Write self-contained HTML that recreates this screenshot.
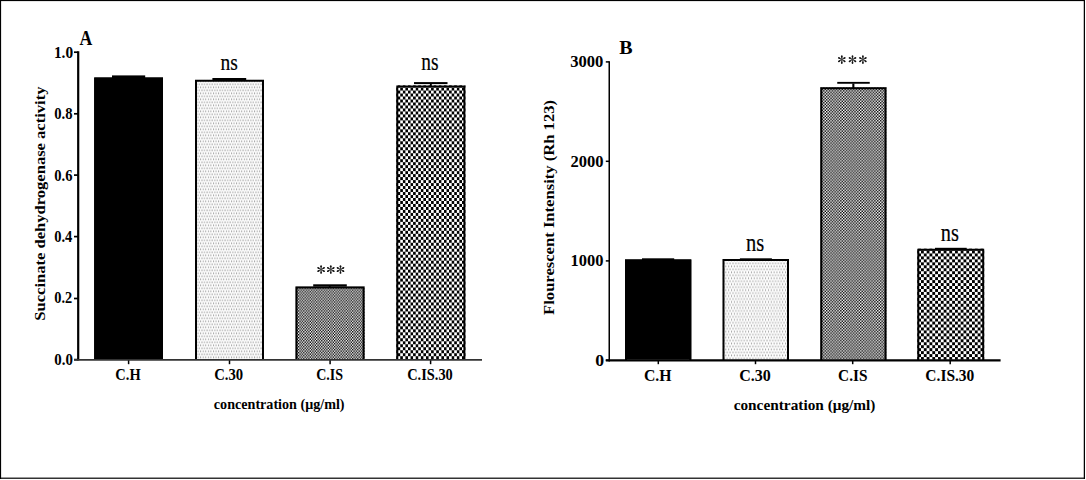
<!DOCTYPE html>
<html><head><meta charset="utf-8"><style>
html,body{margin:0;padding:0;background:#fff;width:1086px;height:480px;overflow:hidden}
svg{display:block;font-family:"Liberation Serif",serif}
</style></head><body>
<svg width="1086" height="480" viewBox="0 0 1086 480">
<defs><pattern id="checkA" patternUnits="userSpaceOnUse" x="423.4" y="198.0" width="5.14" height="5.97"><rect width="5.14" height="5.97" fill="#fff"/><rect x="0.000" y="0.000" width="2.570" height="2.985" fill="#000"/><rect x="2.570" y="2.985" width="2.570" height="2.985" fill="#000"/></pattern><pattern id="checkB" patternUnits="userSpaceOnUse" x="915.3" y="250.5" width="5.67" height="5.92"><rect width="5.67" height="5.92" fill="#fff"/><rect x="0.000" y="0.000" width="2.835" height="2.960" fill="#000"/><rect x="2.835" y="2.960" width="2.835" height="2.960" fill="#000"/></pattern><pattern id="fineA" patternUnits="userSpaceOnUse" x="295.5" y="286.5" width="2.57" height="2.97"><rect width="2.57" height="2.97" fill="#fff"/><rect x="0.000" y="0.000" width="1.285" height="1.485" fill="#000"/><rect x="1.285" y="1.485" width="1.285" height="1.485" fill="#000"/></pattern><pattern id="fineB" patternUnits="userSpaceOnUse" x="820.3" y="87.25" width="2.84" height="2.97"><rect width="2.84" height="2.97" fill="#fff"/><rect x="0.000" y="0.000" width="1.420" height="1.485" fill="#000"/><rect x="1.420" y="1.485" width="1.420" height="1.485" fill="#000"/></pattern><pattern id="dotsA" patternUnits="userSpaceOnUse" x="195" y="79.9" width="2.57" height="6.0"><rect width="2.57" height="6.0" fill="#fff"/><rect x="0" y="0.5" width="1" height="1.8" fill="#a0a0a0"/><rect x="1.285" y="3.5" width="1" height="1.8" fill="#a0a0a0"/></pattern><pattern id="dotsB" patternUnits="userSpaceOnUse" x="722.5" y="259" width="2.84" height="5.94"><rect width="2.84" height="5.94" fill="#fff"/><rect x="0" y="0.5" width="1" height="1.8" fill="#a0a0a0"/><rect x="1.42" y="3.47" width="1" height="1.8" fill="#a0a0a0"/></pattern></defs>
<rect x="0" y="0" width="1085.00" height="1.10" fill="#000"/><rect x="0" y="0" width="1.10" height="479.00" fill="#000"/><rect x="1083.75" y="0" width="1.25" height="479.00" fill="#000"/><rect x="0" y="477.6" width="1085.00" height="1.20" fill="#000"/><line x1="78.2" y1="51.2" x2="78.2" y2="360.6" stroke="#000" stroke-width="2.2"/><line x1="74" y1="52.2" x2="78.2" y2="52.2" stroke="#000" stroke-width="1.7"/><line x1="74" y1="113.8" x2="78.2" y2="113.8" stroke="#000" stroke-width="1.7"/><line x1="74" y1="175.1" x2="78.2" y2="175.1" stroke="#000" stroke-width="1.7"/><line x1="74" y1="236.6" x2="78.2" y2="236.6" stroke="#000" stroke-width="1.7"/><line x1="74" y1="298.5" x2="78.2" y2="298.5" stroke="#000" stroke-width="1.7"/><line x1="74" y1="359.6" x2="78.2" y2="359.6" stroke="#000" stroke-width="1.7"/><line x1="128.6" y1="360" x2="128.6" y2="364.2" stroke="#000" stroke-width="1.5"/><line x1="229.5" y1="360" x2="229.5" y2="364.2" stroke="#000" stroke-width="1.5"/><line x1="330.1" y1="360" x2="330.1" y2="364.2" stroke="#000" stroke-width="1.5"/><line x1="430.6" y1="360" x2="430.6" y2="364.2" stroke="#000" stroke-width="1.5"/><rect x="94.2" y="77.5" width="68.80" height="281.70" fill="#000"/><path d="M95.20,359.70V78.50H162.00V359.70" fill="none" stroke="#000" stroke-width="2.0"/><rect x="195" y="79.7" width="69.00" height="279.50" fill="url(#dotsA)"/><path d="M196.00,359.70V80.70H263.00V359.70" fill="none" stroke="#000" stroke-width="2.0"/><rect x="295.5" y="286.5" width="69.10" height="72.70" fill="url(#fineA)"/><path d="M296.50,359.70V287.50H363.60V359.70" fill="none" stroke="#000" stroke-width="2.0"/><rect x="396.3" y="85.4" width="69.10" height="273.80" fill="url(#checkA)"/><path d="M397.30,359.70V86.40H464.40V359.70" fill="none" stroke="#000" stroke-width="2.0"/><rect x="112" y="75.4" width="33.20" height="2.60" fill="#000"/><rect x="212.4" y="78.0" width="33.80" height="2.00" fill="#000"/><rect x="313.2" y="284.3" width="33.60" height="2.30" fill="#000"/><rect x="328.9" y="285.5" width="1.70" height="1.50" fill="#000"/><rect x="414" y="82.1" width="33.50" height="2.00" fill="#000"/><rect x="429.9" y="84" width="1.90" height="2.00" fill="#000"/><line x1="609.25" y1="61.2" x2="609.25" y2="361.5" stroke="#000" stroke-width="1.5"/><line x1="605.8" y1="61.9" x2="609.25" y2="61.9" stroke="#000" stroke-width="1.5"/><line x1="605.8" y1="161.3" x2="609.25" y2="161.3" stroke="#000" stroke-width="1.5"/><line x1="605.8" y1="260.9" x2="609.25" y2="260.9" stroke="#000" stroke-width="1.5"/><line x1="605.8" y1="360.3" x2="609.25" y2="360.3" stroke="#000" stroke-width="1.5"/><line x1="658.3" y1="361" x2="658.3" y2="364.2" stroke="#000" stroke-width="1.5"/><line x1="755.5" y1="361" x2="755.5" y2="364.2" stroke="#000" stroke-width="1.5"/><line x1="852.7" y1="361" x2="852.7" y2="364.2" stroke="#000" stroke-width="1.5"/><line x1="950.2" y1="361" x2="950.2" y2="364.2" stroke="#000" stroke-width="1.5"/><rect x="625" y="259.4" width="66.30" height="100.20" fill="#000"/><path d="M626.00,360.10V260.40H690.30V360.10" fill="none" stroke="#000" stroke-width="2.0"/><rect x="722.5" y="259.0" width="66.50" height="100.60" fill="url(#dotsB)"/><path d="M723.50,360.10V260.00H788.00V360.10" fill="none" stroke="#000" stroke-width="2.0"/><rect x="820.3" y="87.25" width="66.20" height="272.35" fill="url(#fineB)"/><path d="M821.30,360.10V88.25H885.50V360.10" fill="none" stroke="#000" stroke-width="2.0"/><rect x="917.3" y="248.7" width="66.90" height="110.90" fill="url(#checkB)"/><path d="M918.30,360.10V249.70H983.20V360.10" fill="none" stroke="#000" stroke-width="2.0"/><rect x="642" y="258.3" width="32.20" height="1.70" fill="#000"/><rect x="739.9" y="258.3" width="32.00" height="1.70" fill="#000"/><rect x="837.25" y="81.9" width="32.50" height="1.85" fill="#000"/><rect x="852.3" y="83.5" width="2.10" height="4.50" fill="#000"/><rect x="935" y="247.8" width="31.70" height="1.70" fill="#000"/><line x1="74" y1="359.8" x2="482" y2="359.8" stroke="#333" stroke-width="1.7"/><line x1="605.8" y1="360.4" x2="1000.6" y2="360.4" stroke="#000" stroke-width="2.2"/><line x1="321.10" y1="266.50" x2="321.10" y2="272.50" stroke="#444" stroke-width="1.15"/><line x1="318.50" y1="268.00" x2="323.70" y2="271.00" stroke="#444" stroke-width="1.15"/><line x1="323.70" y1="268.00" x2="318.50" y2="271.00" stroke="#444" stroke-width="1.15"/><ellipse cx="321.10" cy="266.35" rx="1.2" ry="0.85" transform="rotate(-90 321.10 266.35)" fill="#111"/><ellipse cx="323.83" cy="267.93" rx="1.2" ry="0.85" transform="rotate(-30 323.83 267.93)" fill="#111"/><ellipse cx="318.37" cy="267.93" rx="1.2" ry="0.85" transform="rotate(-150 318.37 267.93)" fill="#111"/><ellipse cx="321.10" cy="272.65" rx="1.2" ry="0.85" transform="rotate(-270 321.10 272.65)" fill="#111"/><ellipse cx="318.37" cy="271.07" rx="1.2" ry="0.85" transform="rotate(-210 318.37 271.07)" fill="#111"/><ellipse cx="323.83" cy="271.07" rx="1.2" ry="0.85" transform="rotate(-330 323.83 271.07)" fill="#111"/><line x1="330.80" y1="266.50" x2="330.80" y2="272.50" stroke="#444" stroke-width="1.15"/><line x1="328.20" y1="268.00" x2="333.40" y2="271.00" stroke="#444" stroke-width="1.15"/><line x1="333.40" y1="268.00" x2="328.20" y2="271.00" stroke="#444" stroke-width="1.15"/><ellipse cx="330.80" cy="266.35" rx="1.2" ry="0.85" transform="rotate(-90 330.80 266.35)" fill="#111"/><ellipse cx="333.53" cy="267.93" rx="1.2" ry="0.85" transform="rotate(-30 333.53 267.93)" fill="#111"/><ellipse cx="328.07" cy="267.93" rx="1.2" ry="0.85" transform="rotate(-150 328.07 267.93)" fill="#111"/><ellipse cx="330.80" cy="272.65" rx="1.2" ry="0.85" transform="rotate(-270 330.80 272.65)" fill="#111"/><ellipse cx="328.07" cy="271.07" rx="1.2" ry="0.85" transform="rotate(-210 328.07 271.07)" fill="#111"/><ellipse cx="333.53" cy="271.07" rx="1.2" ry="0.85" transform="rotate(-330 333.53 271.07)" fill="#111"/><line x1="340.50" y1="266.50" x2="340.50" y2="272.50" stroke="#444" stroke-width="1.15"/><line x1="337.90" y1="268.00" x2="343.10" y2="271.00" stroke="#444" stroke-width="1.15"/><line x1="343.10" y1="268.00" x2="337.90" y2="271.00" stroke="#444" stroke-width="1.15"/><ellipse cx="340.50" cy="266.35" rx="1.2" ry="0.85" transform="rotate(-90 340.50 266.35)" fill="#111"/><ellipse cx="343.23" cy="267.93" rx="1.2" ry="0.85" transform="rotate(-30 343.23 267.93)" fill="#111"/><ellipse cx="337.77" cy="267.93" rx="1.2" ry="0.85" transform="rotate(-150 337.77 267.93)" fill="#111"/><ellipse cx="340.50" cy="272.65" rx="1.2" ry="0.85" transform="rotate(-270 340.50 272.65)" fill="#111"/><ellipse cx="337.77" cy="271.07" rx="1.2" ry="0.85" transform="rotate(-210 337.77 271.07)" fill="#111"/><ellipse cx="343.23" cy="271.07" rx="1.2" ry="0.85" transform="rotate(-330 343.23 271.07)" fill="#111"/><line x1="841.80" y1="56.60" x2="841.80" y2="62.60" stroke="#444" stroke-width="1.15"/><line x1="839.20" y1="58.10" x2="844.40" y2="61.10" stroke="#444" stroke-width="1.15"/><line x1="844.40" y1="58.10" x2="839.20" y2="61.10" stroke="#444" stroke-width="1.15"/><ellipse cx="841.80" cy="56.45" rx="1.2" ry="0.85" transform="rotate(-90 841.80 56.45)" fill="#111"/><ellipse cx="844.53" cy="58.02" rx="1.2" ry="0.85" transform="rotate(-30 844.53 58.02)" fill="#111"/><ellipse cx="839.07" cy="58.02" rx="1.2" ry="0.85" transform="rotate(-150 839.07 58.02)" fill="#111"/><ellipse cx="841.80" cy="62.75" rx="1.2" ry="0.85" transform="rotate(-270 841.80 62.75)" fill="#111"/><ellipse cx="839.07" cy="61.18" rx="1.2" ry="0.85" transform="rotate(-210 839.07 61.18)" fill="#111"/><ellipse cx="844.53" cy="61.18" rx="1.2" ry="0.85" transform="rotate(-330 844.53 61.18)" fill="#111"/><line x1="852.50" y1="56.60" x2="852.50" y2="62.60" stroke="#444" stroke-width="1.15"/><line x1="849.90" y1="58.10" x2="855.10" y2="61.10" stroke="#444" stroke-width="1.15"/><line x1="855.10" y1="58.10" x2="849.90" y2="61.10" stroke="#444" stroke-width="1.15"/><ellipse cx="852.50" cy="56.45" rx="1.2" ry="0.85" transform="rotate(-90 852.50 56.45)" fill="#111"/><ellipse cx="855.23" cy="58.02" rx="1.2" ry="0.85" transform="rotate(-30 855.23 58.02)" fill="#111"/><ellipse cx="849.77" cy="58.02" rx="1.2" ry="0.85" transform="rotate(-150 849.77 58.02)" fill="#111"/><ellipse cx="852.50" cy="62.75" rx="1.2" ry="0.85" transform="rotate(-270 852.50 62.75)" fill="#111"/><ellipse cx="849.77" cy="61.18" rx="1.2" ry="0.85" transform="rotate(-210 849.77 61.18)" fill="#111"/><ellipse cx="855.23" cy="61.18" rx="1.2" ry="0.85" transform="rotate(-330 855.23 61.18)" fill="#111"/><line x1="862.90" y1="56.60" x2="862.90" y2="62.60" stroke="#444" stroke-width="1.15"/><line x1="860.30" y1="58.10" x2="865.50" y2="61.10" stroke="#444" stroke-width="1.15"/><line x1="865.50" y1="58.10" x2="860.30" y2="61.10" stroke="#444" stroke-width="1.15"/><ellipse cx="862.90" cy="56.45" rx="1.2" ry="0.85" transform="rotate(-90 862.90 56.45)" fill="#111"/><ellipse cx="865.63" cy="58.02" rx="1.2" ry="0.85" transform="rotate(-30 865.63 58.02)" fill="#111"/><ellipse cx="860.17" cy="58.02" rx="1.2" ry="0.85" transform="rotate(-150 860.17 58.02)" fill="#111"/><ellipse cx="862.90" cy="62.75" rx="1.2" ry="0.85" transform="rotate(-270 862.90 62.75)" fill="#111"/><ellipse cx="860.17" cy="61.18" rx="1.2" ry="0.85" transform="rotate(-210 860.17 61.18)" fill="#111"/><ellipse cx="865.63" cy="61.18" rx="1.2" ry="0.85" transform="rotate(-330 865.63 61.18)" fill="#111"/>
<g transform="translate(79.57,44.76)"><text font-size="21.07" font-weight="bold" textLength="12.78" lengthAdjust="spacingAndGlyphs">A</text></g><g transform="translate(619.22,54.07)"><text font-size="19.50" font-weight="bold" textLength="13.34" lengthAdjust="spacingAndGlyphs">B</text></g><g transform="translate(53.91,57.72)"><text font-size="16.97" font-weight="bold" textLength="19.21" lengthAdjust="spacingAndGlyphs">1.0</text></g><g transform="translate(54.31,119.05)"><text font-size="17.17" font-weight="bold" textLength="18.28" lengthAdjust="spacingAndGlyphs">0.8</text></g><g transform="translate(54.25,180.67)"><text font-size="16.86" font-weight="bold" textLength="18.20" lengthAdjust="spacingAndGlyphs">0.6</text></g><g transform="translate(54.23,242.37)"><text font-size="15.72" font-weight="bold" textLength="18.10" lengthAdjust="spacingAndGlyphs">0.4</text></g><g transform="translate(54.33,303.43)"><text font-size="16.72" font-weight="bold" textLength="17.95" lengthAdjust="spacingAndGlyphs">0.2</text></g><g transform="translate(54.34,364.96)"><text font-size="16.94" font-weight="bold" textLength="18.60" lengthAdjust="spacingAndGlyphs">0.0</text></g><g transform="translate(570.21,67.37)"><text font-size="16.17" font-weight="bold" textLength="33.20" lengthAdjust="spacingAndGlyphs">3000</text></g><g transform="translate(570.44,166.74)"><text font-size="16.91" font-weight="bold" textLength="33.08" lengthAdjust="spacingAndGlyphs">2000</text></g><g transform="translate(570.58,266.21)"><text font-size="16.48" font-weight="bold" textLength="32.97" lengthAdjust="spacingAndGlyphs">1000</text></g><g transform="translate(595.17,365.63)"><text font-size="16.98" font-weight="bold" textLength="8.86" lengthAdjust="spacingAndGlyphs">0</text></g><g transform="translate(115.35,380.44)"><text font-size="16.14" font-weight="bold" textLength="25.28" lengthAdjust="spacingAndGlyphs">C.H</text></g><g transform="translate(214.18,379.93)"><text font-size="16.87" font-weight="bold" textLength="28.92" lengthAdjust="spacingAndGlyphs">C.30</text></g><g transform="translate(316.17,380.44)"><text font-size="16.14" font-weight="bold" textLength="26.86" lengthAdjust="spacingAndGlyphs">C.IS</text></g><g transform="translate(407.18,379.94)"><text font-size="16.88" font-weight="bold" textLength="45.60" lengthAdjust="spacingAndGlyphs">C.IS.30</text></g><g transform="translate(643.92,380.87)"><text font-size="15.97" font-weight="bold" textLength="27.57" lengthAdjust="spacingAndGlyphs">C.H</text></g><g transform="translate(739.25,380.95)"><text font-size="15.69" font-weight="bold" textLength="31.62" lengthAdjust="spacingAndGlyphs">C.30</text></g><g transform="translate(838.10,380.87)"><text font-size="15.97" font-weight="bold" textLength="29.33" lengthAdjust="spacingAndGlyphs">C.IS</text></g><g transform="translate(925.37,380.87)"><text font-size="16.36" font-weight="bold" textLength="48.95" lengthAdjust="spacingAndGlyphs">C.IS.30</text></g><g transform="translate(213.84,409.32)"><text font-size="15.35" font-weight="bold" textLength="130.69" lengthAdjust="spacingAndGlyphs">concentration (&#956;g/ml)</text></g><g transform="translate(733.65,410.43)"><text font-size="15.21" font-weight="bold" textLength="141.80" lengthAdjust="spacingAndGlyphs">concentration (&#956;g/ml)</text></g><g transform="translate(220.42,70.05)"><text font-size="23.49" font-weight="normal" textLength="17.33" lengthAdjust="spacingAndGlyphs" stroke="#000" stroke-width="0.2">ns</text></g><g transform="translate(421.35,70.01)"><text font-size="25.92" font-weight="normal" textLength="17.25" lengthAdjust="spacingAndGlyphs" stroke="#000" stroke-width="0.2">ns</text></g><g transform="translate(746.12,251.22)"><text font-size="24.29" font-weight="normal" textLength="18.19" lengthAdjust="spacingAndGlyphs" stroke="#000" stroke-width="0.2">ns</text></g><g transform="translate(940.77,240.84)"><text font-size="24.22" font-weight="normal" textLength="18.09" lengthAdjust="spacingAndGlyphs" stroke="#000" stroke-width="0.2">ns</text></g><g transform="translate(44.95,320.65) rotate(-90)"><text font-size="14.16" font-weight="bold" textLength="234.14" lengthAdjust="spacingAndGlyphs">Succinate dehydrogenase activity</text></g><g transform="translate(554.33,314.91) rotate(-90)"><text font-size="14.96" font-weight="bold" textLength="214.96" lengthAdjust="spacingAndGlyphs">Flourescent Intensity (Rh 123)</text></g>
</svg>
</body></html>
